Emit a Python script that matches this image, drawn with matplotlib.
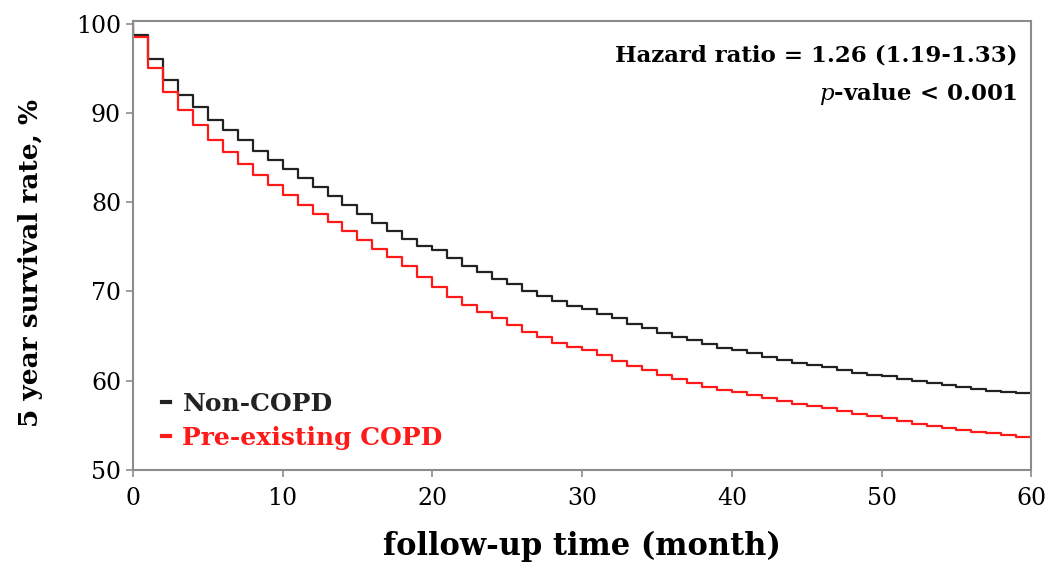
import numpy as np
import matplotlib
matplotlib.use("Agg")
import matplotlib.pyplot as plt
from matplotlib.lines import Line2D

plt.rcParams['font.family'] = ['DejaVu Serif']
plt.rcParams['mathtext.fontset'] = 'dejavuserif'

# survival (%) during each month interval [m, m+1), m = 0..59
months = np.arange(0, 61)
non_copd = [98.7, 96.0, 93.7, 92.0, 90.7, 89.2, 88.1, 87.0, 85.7, 84.7,
            83.7, 82.7, 81.7, 80.7, 79.7, 78.7, 77.7, 76.8, 75.9, 75.1,
            74.6, 73.7, 72.8, 72.2, 71.4, 70.8, 70.1, 69.5, 68.9, 68.4,
            68.0, 67.5, 67.0, 66.4, 65.9, 65.4, 64.9, 64.6, 64.1, 63.7,
            63.4, 63.1, 62.7, 62.3, 62.0, 61.8, 61.5, 61.2, 60.9, 60.7,
            60.5, 60.25, 60.0, 59.75, 59.5, 59.25, 59.05, 58.9, 58.7, 58.6]
copd = [98.5, 95.0, 92.4, 90.3, 88.6, 87.0, 85.6, 84.3, 83.1, 81.9,
        80.8, 79.7, 78.7, 77.8, 76.8, 75.8, 74.8, 73.9, 72.9, 71.6,
        70.5, 69.4, 68.5, 67.75, 67.0, 66.3, 65.5, 64.9, 64.2, 63.8,
        63.4, 62.9, 62.2, 61.7, 61.2, 60.7, 60.2, 59.8, 59.3, 58.95,
        58.7, 58.4, 58.05, 57.75, 57.45, 57.2, 56.9, 56.6, 56.3, 56.1,
        55.8, 55.5, 55.2, 54.95, 54.7, 54.45, 54.3, 54.1, 53.9, 53.75]
labels = ['Non-COPD', 'Pre-existing COPD']
colors = ['#222222', '#ff1a1a']
hr_text = 'Hazard ratio = 1.26 (1.19-1.33)'
p_text = r'$p$-value < 0.001'

fig = plt.figure(figsize=(10.46, 5.67), dpi=100)
ax = fig.add_axes([0.127, 0.171, 0.859, 0.792])

for vals, c in zip([non_copd, copd], colors):
    y = [100.0] + list(vals) + [vals[-1]]
    x = [0] + list(months)
    ax.step(x, y, where='post', color=c, lw=1.6)

ax.set_xlim(0, 60)
ax.set_ylim(50, 100.3)
ax.set_xticks([0, 10, 20, 30, 40, 50, 60])
ax.set_yticks([50, 60, 70, 80, 90, 100])
for s in ax.spines.values():
    s.set_color('#8c8c8c')
    s.set_linewidth(1.5)
ax.tick_params(colors='#8c8c8c', labelcolor='black', length=5, width=1.2,
               labelsize=17)
ax.tick_params(axis='x', pad=7)

ax.set_xlabel('follow-up time (month)', fontsize=22, fontweight='bold')
ax.xaxis.set_label_coords(0.5, -0.135)
ax.set_ylabel('5 year survival rate, %', fontsize=19, fontweight='bold')
ax.yaxis.set_label_coords(-0.100, 0.46)

ax.text(0.985, 0.923, hr_text, transform=ax.transAxes, ha='right', va='center',
        fontsize=16.5, fontweight='bold')
ax.text(0.985, 0.838, p_text, transform=ax.transAxes, ha='right', va='center',
        fontsize=16.5, fontweight='bold')

handles = [Line2D([0], [0], color=c, lw=3) for c in colors]
leg = ax.legend(handles, labels, loc='lower left', bbox_to_anchor=(0.033, 0.045),
                frameon=False, handlelength=0.3, handletextpad=0.5,
                labelspacing=0.4, borderpad=0, borderaxespad=0,
                prop={'size': 18, 'weight': 'bold'}, labelcolor=colors)

fig.savefig('out.png', dpi=100)
